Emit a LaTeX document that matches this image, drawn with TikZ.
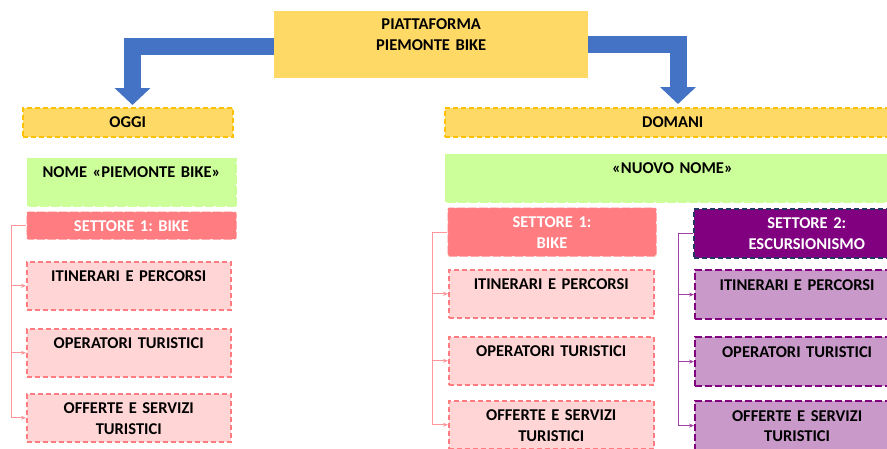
\documentclass[tikz,border=0pt]{standalone}
\usepackage{fontspec}
\setmainfont{Carlito}
\usetikzlibrary{arrows.meta}
\definecolor{oro}{HTML}{FFD966}
\definecolor{arancio}{HTML}{FFC000}
\definecolor{verde}{HTML}{CCFF99}
\definecolor{salmone}{HTML}{FF7C80}
\definecolor{rosa}{HTML}{FFD5D5}
\definecolor{viola}{HTML}{800080}
\definecolor{lilla}{HTML}{C999C9}
\definecolor{blu}{HTML}{4472C4}
\definecolor{notte}{HTML}{1F3864}
\frenchspacing
\begin{document}
\begin{tikzpicture}[x=1pt,y=-1pt, font=\fontsize{16.5}{20.5}\selectfont\bfseries, line join=miter,
  box/.style={anchor=north west, align=center, inner xsep=0pt, inner ysep=6pt, text height=14pt},
  cima/.style={box, fill=oro, text height=12.5pt, text depth=42.5pt},
  intest/.style={box, fill=oro, draw=arancio, line width=1.5pt, dash pattern=on 5pt off 3pt, text depth=3pt},
  nome/.style={box, fill=verde, draw=white, line width=1pt, dash pattern=on 2pt off 9pt, text depth=23pt},
  settore/.style={box, fill=salmone, draw=white, line width=1pt, dash pattern=on 2pt off 9pt, rounded corners=2pt, text=white, text depth=23pt},
  settore2/.style={box, fill=viola, draw=notte, line width=1.5pt, dash pattern=on 5pt off 3pt, text=white, text depth=23pt},
  voce/.style={box, fill=rosa, draw=salmone, line width=1.5pt, dash pattern=on 5pt off 3pt, text depth=22pt},
  voce2/.style={box, fill=lilla, draw=viola, line width=2.2pt, dash pattern=on 7pt off 3pt, text depth=23pt},
  collega/.style={draw=salmone!80, line width=0.7pt, -{Stealth[length=5pt,width=4pt]}},
  collega2/.style={draw=viola!75, line width=0.9pt, -{Stealth[length=5pt,width=4pt]}},
  freccia/.style={draw=blu, line width=17pt, -{Triangle[width=35pt,length=17pt]}}]
\clip (0,0) rectangle (887,448);
\node[cima, text width=314pt] (piattaforma) at (274,11) {PIATTAFORMA\\PIEMONTE BIKE};
\node[intest, text width=210pt] (oggi) at (22,107) {OGGI};
\node[intest, text width=456pt] (domani) at (444,107) {DOMANI};
\node[nome, text width=210pt] (nomeoggi) at (26,157) {NOME «PIEMONTE BIKE»};
\node[nome, text width=456pt] (nomedomani) at (444,153) {«NUOVO NOME»};
\node[settore, text width=210pt, text depth=2pt] (bikeoggi) at (26,211) {SETTORE 1: BIKE};
\node[settore, text width=209pt] (bikedomani) at (447,207) {SETTORE 1:\\BIKE};
\node[settore2, text width=226pt] (escurs) at (693,208) {SETTORE 2:\\ESCURSIONISMO};
\foreach \y/\t [count=\i] in {261/{ITINERARI E PERCORSI}, 328/{OPERATORI TURISTICI}, 393/{OFFERTE E SERVIZI\\TURISTICI}}
  \node[voce, text width=204pt] (vo\i) at (26,\y) {\t};
\foreach \y/\t [count=\i] in {269/{ITINERARI E PERCORSI}, 336/{OPERATORI TURISTICI}, 400/{OFFERTE E SERVIZI\\TURISTICI}}{
  \node[voce, text width=205pt] (vd\i) at (448,\y) {\t};
  \node[voce2, text width=204pt] (ve\i) at (694,\y) {\t};
}
\foreach \i in {1,2,3}{
  \draw[collega] (bikeoggi.west) -- ++(-15,0) |- (vo\i.west);
  \draw[collega] (bikedomani.west) -- ++(-15,0) |- (vd\i.west);
  \draw[collega2] (escurs.west) -- ++(-15,0) |- (ve\i.west);
}
\coordinate (puntaO) at (132.5,105);
\coordinate (puntaD) at (678,104);
\draw[freccia] ([yshift=-2pt]piattaforma.west) -| (puntaO);
\draw[freccia] (piattaforma.east) -| (puntaD);
\end{tikzpicture}
\end{document}
